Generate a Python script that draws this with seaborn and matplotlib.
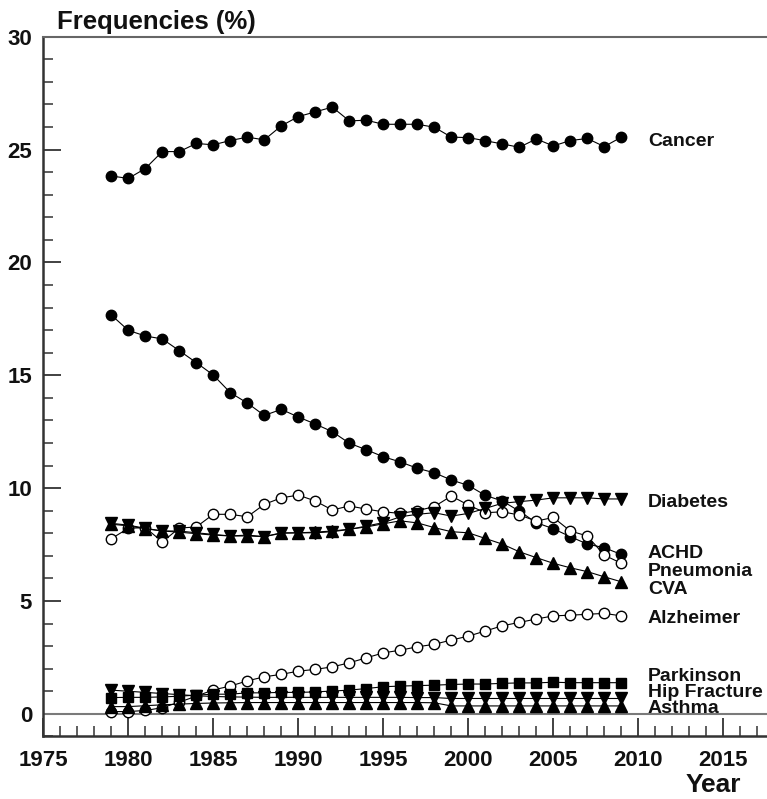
import matplotlib
matplotlib.use("Agg")
import matplotlib.pyplot as plt
import seaborn as sns
import pandas as pd
from matplotlib.ticker import MultipleLocator

# ---------------- data ----------------
years = list(range(1979, 2010))

cancer = [23.83, 23.72, 24.16, 24.91, 24.91, 25.27, 25.21, 25.40, 25.55, 25.43,
          26.05, 26.46, 26.67, 26.88, 26.27, 26.30, 26.12, 26.12, 26.12, 25.99,
          25.55, 25.53, 25.39, 25.25, 25.10, 25.47, 25.16, 25.40, 25.49, 25.13, 25.55]
achd = [17.67, 16.99, 16.74, 16.61, 16.09, 15.56, 15.01, 14.23, 13.77, 13.22,
        13.49, 13.15, 12.84, 12.50, 11.99, 11.70, 11.39, 11.16, 10.88, 10.68,
        10.36, 10.12, 9.68, 9.43, 8.98, 8.47, 8.20, 7.85, 7.52, 7.36, 7.06]
pneumonia = [7.76, 8.22, 8.25, 7.62, 8.23, 8.28, 8.84, 8.84, 8.73, 9.28,
             9.57, 9.69, 9.43, 9.03, 9.21, 9.07, 8.95, 8.88, 9.00, 9.18,
             9.65, 9.25, 8.91, 8.95, 8.81, 8.54, 8.70, 8.10, 7.88, 7.03, 6.67]
diabetes = [8.44, 8.36, 8.22, 8.10, 8.10, 8.02, 7.95, 7.88, 7.92, 7.85,
            8.00, 8.02, 8.02, 8.07, 8.17, 8.32, 8.47, 8.73, 8.84, 8.91,
            8.76, 8.88, 9.10, 9.33, 9.40, 9.47, 9.57, 9.57, 9.57, 9.52, 9.52]
cva = [8.40, 8.33, 8.20, 8.10, 8.05, 7.98, 7.92, 7.88, 7.88, 7.85,
       8.02, 8.02, 8.05, 8.10, 8.18, 8.28, 8.42, 8.55, 8.46, 8.25,
       8.07, 8.02, 7.77, 7.52, 7.18, 6.92, 6.67, 6.47, 6.30, 6.07, 5.85]
alzheimer = [0.10, 0.10, 0.15, 0.27, 0.52, 0.78, 1.06, 1.23, 1.46, 1.64,
             1.75, 1.89, 1.97, 2.08, 2.26, 2.48, 2.70, 2.82, 2.97, 3.08,
             3.27, 3.44, 3.67, 3.90, 4.05, 4.20, 4.34, 4.37, 4.41, 4.45, 4.34]
parkinson = [0.72, 0.73, 0.73, 0.75, 0.78, 0.83, 0.87, 0.87, 0.93, 0.93,
             0.95, 0.95, 0.97, 1.01, 1.05, 1.12, 1.20, 1.23, 1.25, 1.27,
             1.30, 1.32, 1.32, 1.35, 1.37, 1.37, 1.40, 1.38, 1.38, 1.38, 1.38]
hip_fracture = [1.05, 1.00, 0.95, 0.90, 0.85, 0.80, 0.77, 0.75, 0.74, 0.73,
                0.73, 0.73, 0.73, 0.73, 0.73, 0.73, 0.73, 0.73, 0.72, 0.72,
                0.68, 0.68, 0.68, 0.68, 0.68, 0.68, 0.68, 0.68, 0.68, 0.68, 0.68]
asthma = [0.32, 0.32, 0.36, 0.40, 0.43, 0.46, 0.48, 0.49, 0.50, 0.50,
          0.50, 0.50, 0.50, 0.50, 0.50, 0.50, 0.50, 0.50, 0.50, 0.49,
          0.35, 0.35, 0.35, 0.35, 0.35, 0.35, 0.35, 0.35, 0.35, 0.35, 0.35]

names = ["Cancer", "ACHD", "Pneumonia", "Diabetes", "CVA", "Alzheimer",
         "Parkinson", "Hip Fracture", "Asthma"]
series = [cancer, achd, pneumonia, diabetes, cva, alzheimer,
          parkinson, hip_fracture, asthma]

df = pd.DataFrame({"Year": years * len(names),
                   "Value": sum(series, []),
                   "Cause": sum([[n] * len(years) for n in names], [])})

# ---------------- style ----------------
marker_style = {
    "Cancer": ("o", "black", 7.5),
    "ACHD": ("o", "black", 7.5),
    "Pneumonia": ("o", "white", 7.5),
    "Alzheimer": ("o", "white", 7.5),
    "Diabetes": ("v", "black", 8),
    "Hip Fracture": ("v", "black", 8),
    "CVA": ("^", "black", 8),
    "Asthma": ("^", "black", 8),
    "Parkinson": ("s", "black", 7),
}
label_y = {"Cancer": 25.17, "Diabetes": 9.17, "ACHD": 6.89, "Pneumonia": 6.10,
           "CVA": 5.30, "Alzheimer": 4.01, "Parkinson": 1.46,
           "Hip Fracture": 0.75, "Asthma": 0.02}

sns.set_theme(style="ticks")
plt.rcParams["font.family"] = ["Liberation Sans", "DejaVu Sans"]
plt.rcParams["font.weight"] = "bold"

W, H = 767, 799
fig = plt.figure(figsize=(W / 100, H / 100), dpi=100)
left_px, top_px, bottom_px = 43.3, 36.7, 736.4
ax = fig.add_axes([left_px / W, 1 - bottom_px / H, (W - left_px) / W,
                   (bottom_px - top_px) / H])

ax.axhline(0, color="#7a7a7a", lw=1.5, zorder=1)

for name in names:
    m, fc, ms = marker_style[name]
    sub = df[df["Cause"] == name]
    sns.lineplot(data=sub, x="Year", y="Value", ax=ax, color="black",
                 lw=0.8, marker=m, markersize=ms, markerfacecolor=fc,
                 markeredgecolor="black", markeredgewidth=1.0,
                 legend=False, zorder=3)

for name in names:
    ax.text(2010.57, label_y[name], name, fontsize=14, fontweight="bold",
            ha="left", va="baseline", color="#111111")

ax.set_xlim(1975, 1975 + (W - left_px) / 17.0)
ax.set_ylim(-1, 30)
ax.set_xticks([1975, 1980, 1985, 1990, 1995, 2000, 2005, 2010, 2015])
ax.set_yticks([0, 5, 10, 15, 20, 25, 30])
ax.xaxis.set_minor_locator(MultipleLocator(1))
ax.yaxis.set_minor_locator(MultipleLocator(1))
ax.tick_params(axis="both", which="major", direction="in", length=13,
               width=1.3, color="#333333", labelsize=16)
ax.tick_params(axis="both", which="minor", direction="in", length=7,
               width=1.1, color="#333333")
ax.tick_params(axis="x", which="major", pad=10)
ax.tick_params(axis="y", which="major", pad=8)
ax.tick_params(axis="y", which="both", right=False)
ax.tick_params(axis="x", which="both", top=False)
for lab in ax.get_xticklabels() + ax.get_yticklabels():
    lab.set_fontweight("bold")
    lab.set_color("#111111")

ax.set_xlabel("")
ax.set_ylabel("")
for s in ["left", "bottom"]:
    ax.spines[s].set_linewidth(1.8)
    ax.spines[s].set_color("#333333")
ax.spines["top"].set_linewidth(1.5)
ax.spines["top"].set_color("#666666")
ax.spines["right"].set_visible(False)

fig.text(57 / W, 1 - 29.5 / H, "Frequencies (%)", fontsize=18.5,
         fontweight="bold", ha="left", va="baseline", color="#111111")
fig.text(741 / W, 1 - 792 / H, "Year", fontsize=19, fontweight="bold",
         ha="right", va="baseline", color="#111111")

fig.savefig("out.png", dpi=100)
